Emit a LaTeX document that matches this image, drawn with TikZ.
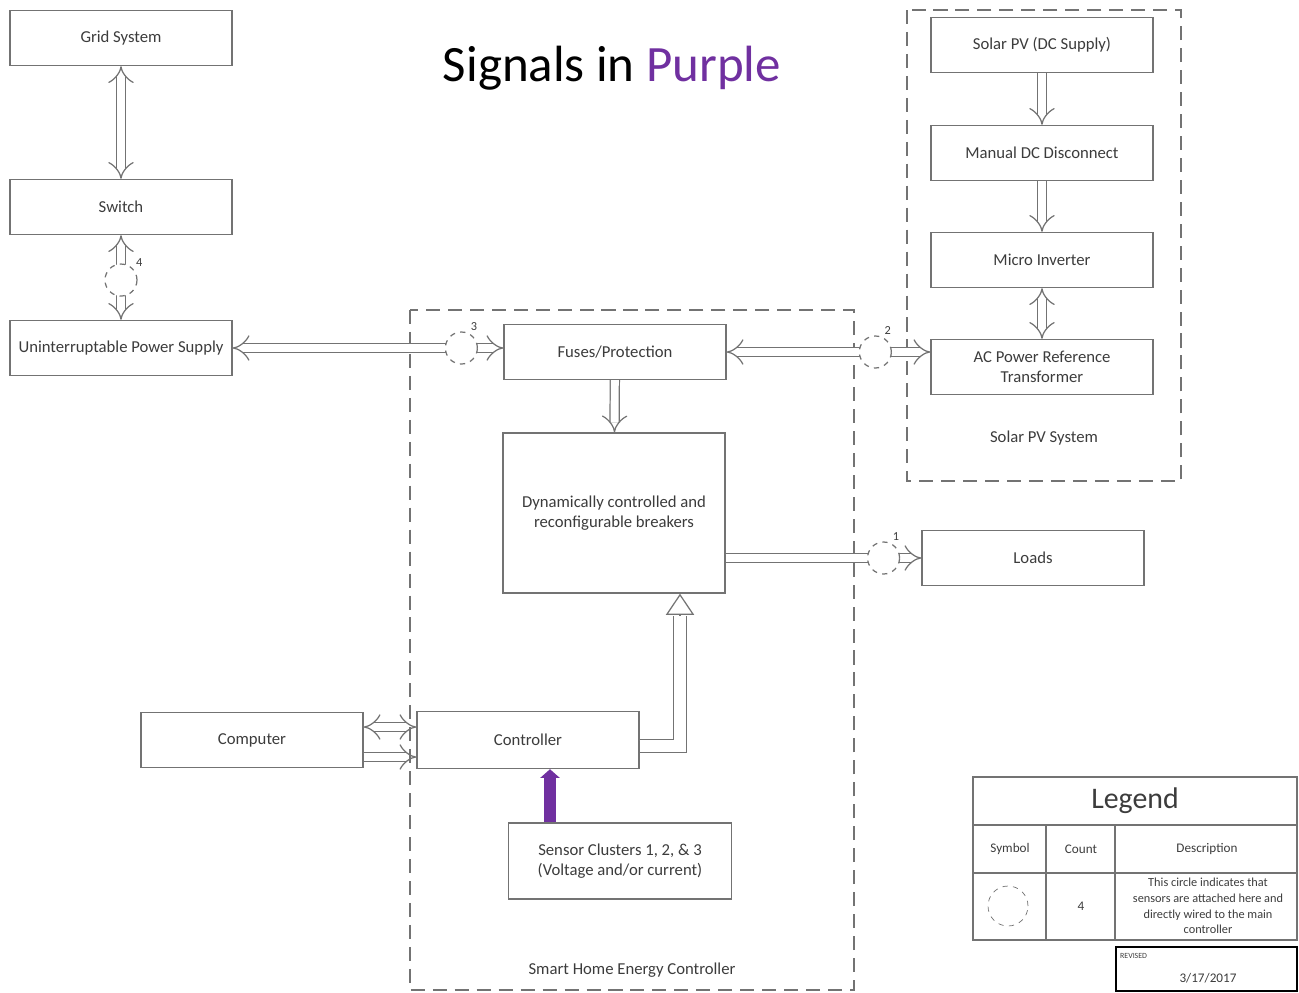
\documentclass[tikz,border=0pt]{standalone}
\usepackage{fontspec}
\setmainfont{Carlito}
\usetikzlibrary{arrows.meta, positioning, calc}
\definecolor{signalpurple}{RGB}{112, 48, 160}
\definecolor{boxgray}{RGB}{115, 115, 115}
\definecolor{textgray}{RGB}{60, 60, 60}
\tikzset{
  block/.style={draw=boxgray, line width=0.8pt, fill=white, text=textgray,
    minimum width=4.44cm, minimum height=1.1cm, align=center, inner sep=2pt},
  tag/.style={text=textgray, inner sep=1pt},
  sensor/.style={circle, draw=boxgray, dashed, fill=white, minimum size=0.64cm, inner sep=0pt},
  power/.style={draw=boxgray, line width=0.7pt, double=white, double distance=4.5pt, -{Implies[scale=0.7]}},
  powerboth/.style={power, {Implies[scale=0.7]}-{Implies[scale=0.7]}},
  signal/.style={draw=signalpurple, line width=6.5pt, -{Triangle[width=11pt, length=5pt]}},
  group/.style={draw=boxgray, line width=0.8pt, dash pattern=on 8pt off 4.5pt},
}
\begin{document}
\begin{tikzpicture}[x=0.02cm, y=-0.02cm, font=\fontsize{9.5}{11.5}\selectfont]
  \useasboundingbox (0,0) rectangle (1299,992);
  % Group frames
  \draw[group] (907,10) rectangle (1181,481);
  \node[tag] (pvsys) at (1044,438) {Solar PV System};
  \draw[group] (410,310) rectangle (854,990);
  \node[tag] (shec) at (632,970) {Smart Home Energy Controller};
  % Title
  \node[tag, font=\fontsize{29}{33}\selectfont, text=black] (title) at (612,68) {Signals in \textcolor{signalpurple}{Purple}};
  % Grid side
  \node[block] (grid) at (121,38) {Grid System};
  \node[block] (switch) at (121,207) {Switch};
  \node[block] (ups) at (121,348) {Uninterruptable Power Supply};
  % Solar PV side
  \node[block] (pv) at (1042,45) {Solar PV (DC Supply)};
  \node[block] (dc) at (1042,153) {Manual DC Disconnect};
  \node[block] (inv) at (1042,260) {Micro Inverter};
  \node[block] (ac) at (1042,367) {AC Power Reference\\Transformer};
  % Controller
  \node[block] (fuse) at (615,352) {Fuses/Protection};
  \node[block, minimum height=3.2cm] (brk) at (614,513) {Dynamically controlled and\\reconfigurable breakers};
  \node[block] (loads) at (1033,558) {Loads};
  \node[block] (comp) at (252,740) {Computer};
  \node[block, minimum height=1.14cm] (ctrl) at (528,740) {Controller};
  \node[block, minimum width=4.46cm, minimum height=1.52cm] (sens) at (620,861) {Sensor Clusters 1, 2, \& 3\\(Voltage and/or current)};
  % Power flow
  \draw[powerboth] (grid) -- (switch);
  \draw[powerboth] (switch) -- node[sensor, pos=0.53, label={[tag, font=\scriptsize]40:4}] (s4) {} (ups);
  \draw[powerboth] (ups.east) -- node[sensor, pos=0.845, label={[tag, font=\scriptsize]65:3}] (s3) {} (ups.east -| fuse.west);
  \draw[powerboth] (fuse.east) -- node[sensor, pos=0.73, label={[tag, font=\scriptsize]65:2}] (s2) {} (fuse.east -| ac.west);
  \draw[power] (fuse) -- (brk);
  \draw[power] (brk.east |- loads) -- node[sensor, pos=0.807, label={[tag, font=\scriptsize]65:1}] (s1) {} (loads);
  \draw[power] (pv) -- (dc);
  \draw[power] (dc) -- (inv);
  \draw[powerboth] (inv) -- (ac);
  \draw[powerboth] ($(comp.east)+(0,-13)$) -- ($(ctrl.west)+(0,-13)$);
  \draw[power] ($(comp.east)+(0,17)$) -- ($(ctrl.west)+(0,17)$);
  % Control path up to the breakers
  \coordinate (tip) at ($(brk.south)+(66,0)$);
  \coordinate (base) at ($(tip)+(0,22)$);
  \draw[power, double distance=6.5pt, -] ($(ctrl.east)+(0,6)$) -| (base);
  \draw[draw=boxgray, line width=0.7pt, -{Triangle[open, width=16pt, length=12pt, fill=white]}] (base) -- (tip);
  % Signal
  \coordinate (sig) at ($(sens.north)+(-70,0)$);
  \draw[signal] (sig) -- (sig |- ctrl.south);
  % Legend
  \draw[boxgray, line width=0.8pt] (973,777) rectangle (1297,940);
  \draw[boxgray, line width=0.8pt] (973,825) -- (1297,825) (973,873) -- (1297,873)
    (1046,825) -- (1046,940) (1115,825) -- (1115,940);
  \node[tag, font=\fontsize{17}{19}\selectfont] (legtitle) at (1135,801) {Legend};
  \node[tag, font=\fontsize{7.5}{9}\selectfont] (legsym) at (1010,849) {Symbol};
  \node[tag, font=\fontsize{7.5}{9}\selectfont] (legcnt) at (1081,849) {Count};
  \node[tag, font=\fontsize{7.5}{9}\selectfont] (legdesc) at (1207,849) {Description};
  \node[sensor, minimum size=0.8cm] (legcirc) at (1008,906) {};
  \node[tag, font=\fontsize{7.5}{9}\selectfont] (legnum) at (1081,906) {4};
  \node[tag, align=center, font=\fontsize{7}{9}\selectfont] (legtext) at (1208,906)
    {This circle indicates that\\sensors are attached here and\\directly wired to the main\\controller};
  % Revision stamp
  \draw[black, line width=1.5pt] (1116,947) rectangle (1297,991);
  \node[tag, anchor=west, font=\fontsize{4.5}{5}\selectfont] (revtag) at (1118,956) {REVISED};
  \node[tag, font=\fontsize{7.5}{9}\selectfont] (revdate) at (1208,978) {3/17/2017};
\end{tikzpicture}
\end{document}
